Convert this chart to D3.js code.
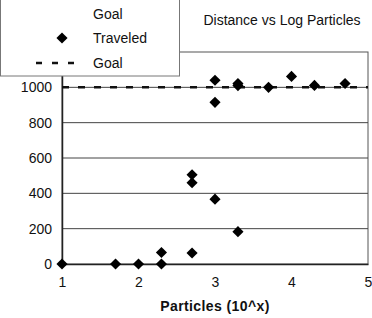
<!DOCTYPE html>
<html><head><meta charset="utf-8">
<script src="https://cdn.jsdelivr.net/npm/d3@7"></script>
<style>body{margin:0;background:#fff}svg{display:block;font-family:"Liberation Sans",Arial,sans-serif}</style>
</head><body>
<svg id="c" width="372" height="318"></svg>
<script>
const xTicks = [1, 2, 3, 4, 5];
const yTicks = [0, 200, 400, 600, 800, 1000];
const traveledX = [1, 1.7, 2, 2.3, 2.3, 2.7, 2.7, 2.7, 3, 3, 3, 3.3, 3.3, 3.3, 3.7, 4, 4.3, 4.7];
const traveledY = [0, 0, 0, 0, 65, 505, 460, 62, 1040, 915, 367, 1022, 1010, 183, 1000, 1062, 1011, 1022];
const goalX = [1, 5];
const goalY = [1000, 1000];
const legendLabels = ["Goal", "Traveled", "Goal"];
const title = "Distance vs Log Particles";
const xTitle = "Particles (10^x)";

const svg = d3.select("#c");
const L = 62, R = 368, T = 52, B = 264;
const x = d3.scaleLinear().domain([1, 5]).range([L, R]);
const y = d3.scaleLinear().domain([0, 1200]).range([B, T]);

// frame
svg.append("rect").attr("x", L).attr("y", T).attr("width", R - L).attr("height", B - T)
  .attr("fill", "#fff").attr("stroke", "#555").attr("stroke-width", 1);

// gridlines
svg.append("g").selectAll("line").data(yTicks.filter(d => d > 0)).join("line")
  .attr("x1", L).attr("x2", R).attr("y1", d => y(d)).attr("y2", d => y(d))
  .attr("stroke", "#444").attr("stroke-width", 1);

// y axis
const yAxis = d3.axisLeft(y).tickValues(yTicks).tickSize(0).tickPadding(10).tickFormat(d3.format("d"));
const gy = svg.append("g").attr("transform", `translate(${L},0)`).call(yAxis);
gy.select(".domain").attr("stroke", "#222").attr("stroke-width", 1.5);
gy.selectAll("text").attr("font-size", 14).attr("fill", "#111").attr("font-family", "Liberation Sans, Arial");

// x axis
const xAxis = d3.axisBottom(x).tickValues(xTicks).tickSize(0).tickPadding(13).tickFormat(d3.format("d"));
const gx = svg.append("g").attr("transform", `translate(0,${B})`).call(xAxis);
gx.select(".domain").attr("stroke", "#222").attr("stroke-width", 1.5);
gx.selectAll("text").attr("font-size", 14).attr("fill", "#111").attr("font-family", "Liberation Sans, Arial");

// goal line
svg.append("path").datum(goalX.map((d, i) => [d, goalY[i]]))
  .attr("d", d3.line().x(d => x(d[0])).y(d => y(d[1])))
  .attr("stroke", "#111").attr("stroke-width", 2.5).attr("stroke-dasharray", "7,9").attr("fill", "none");

// points (rotated squares)
const sq = d3.symbol().type(d3.symbolSquare).size(62);
svg.append("g").selectAll("path").data(traveledX.map((d, i) => [d, traveledY[i]])).join("path")
  .attr("d", sq).attr("transform", d => `translate(${x(d[0])},${y(d[1])}) rotate(45)`).attr("fill", "#000");

// titles
svg.append("text").attr("x", 282).attr("y", 25).attr("text-anchor", "middle")
  .attr("font-size", 14).attr("fill", "#111").text(title);
svg.append("text").attr("x", 215).attr("y", 311).attr("text-anchor", "middle")
  .attr("font-size", 14).attr("font-weight", "bold").attr("letter-spacing", 0.4).attr("fill", "#111").text(xTitle);

// legend
const lg = svg.append("g");
lg.append("rect").attr("x", 0.5).attr("y", -1).attr("width", 179).attr("height", 77)
  .attr("fill", "#fff").attr("stroke", "#777").attr("stroke-width", 1);
const ly = [14, 38, 63];
lg.selectAll("text").data(legendLabels).join("text")
  .attr("x", 93).attr("y", (d, i) => ly[i] + 5).attr("font-size", 14).attr("fill", "#111").text(d => d);
lg.append("path").attr("d", sq).attr("transform", `translate(62,${ly[1]}) rotate(45)`).attr("fill", "#000");
lg.append("line").attr("x1", 36).attr("x2", 80).attr("y1", ly[2]).attr("y2", ly[2])
  .attr("stroke", "#111").attr("stroke-width", 2.5).attr("stroke-dasharray", "6,10");
</script>
</body></html>
